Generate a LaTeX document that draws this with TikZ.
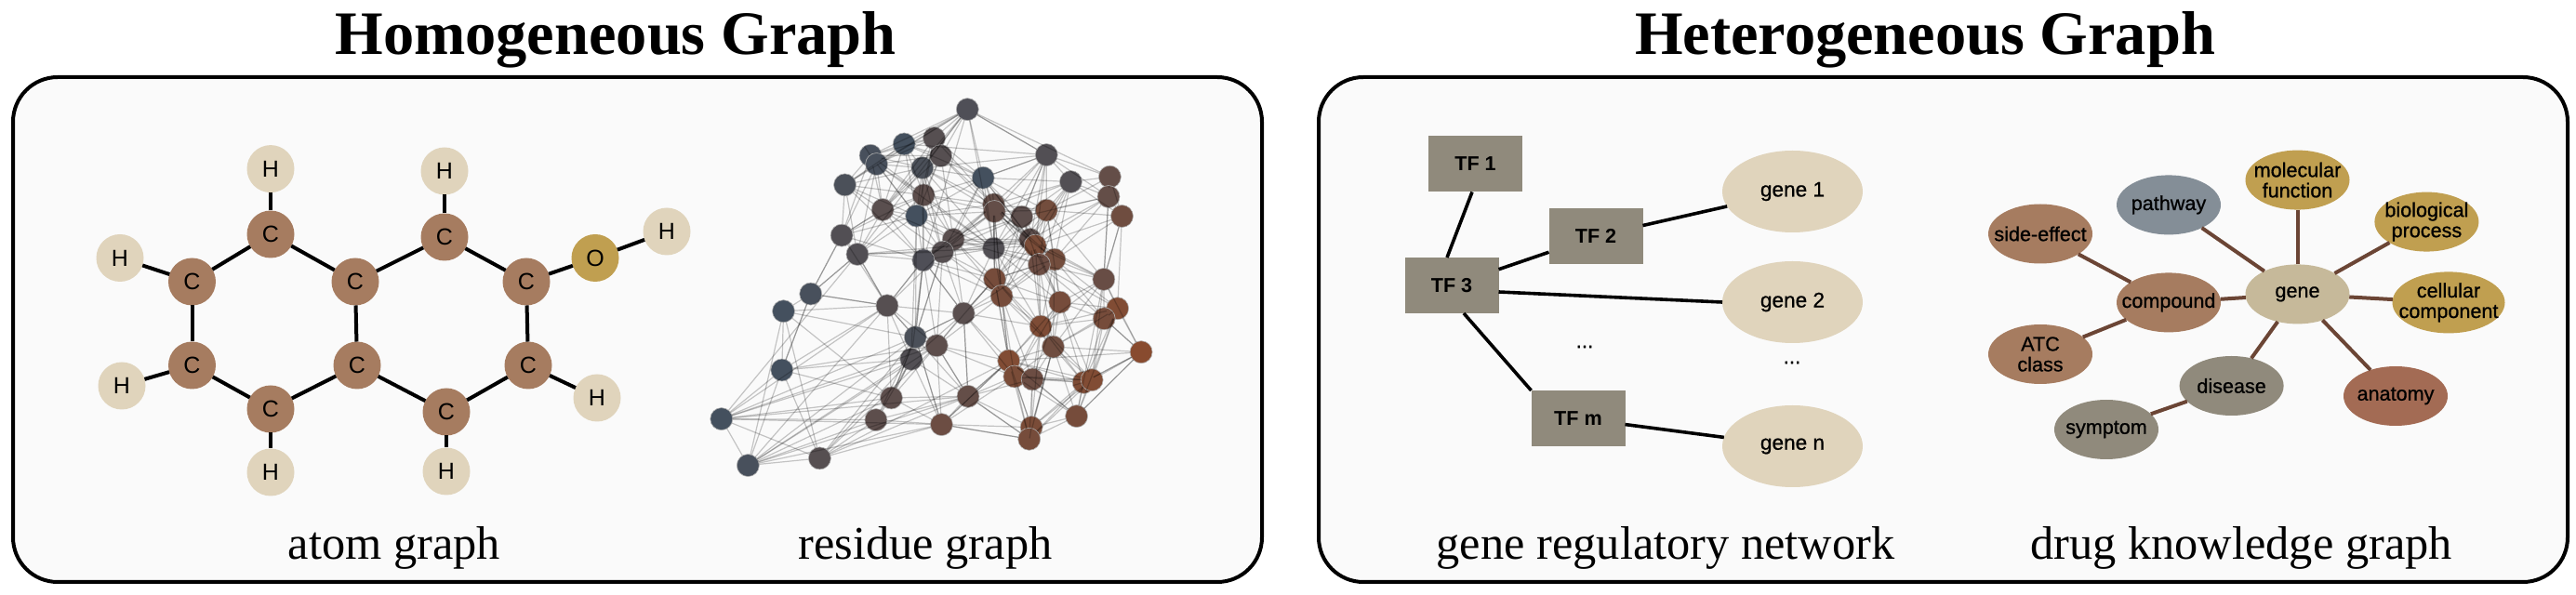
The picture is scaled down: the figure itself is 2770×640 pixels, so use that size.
\documentclass[tikz,border=0pt]{standalone}
\usepackage{fontspec}
\setmainfont{Liberation Serif}
\setsansfont{Liberation Sans}
\newfontfamily\labelfont[FakeBold=0.8]{Liberation Sans}
\usetikzlibrary{positioning}
\usetikzlibrary{shapes.geometric}
\definecolor{panelfill}{HTML}{FAFAFA}
\definecolor{carbon}{HTML}{A67C60}
\definecolor{hydrogen}{HTML}{E0D4BC}
\definecolor{gold}{HTML}{C09F50}
\definecolor{taupe}{HTML}{908A7C}
\definecolor{slate}{HTML}{848E97}
\definecolor{genefill}{HTML}{C6B99A}
\definecolor{rust}{HTML}{A36B54}
\definecolor{linkbrown}{HTML}{6B4535}
\definecolor{resblue}{HTML}{44505E}
\definecolor{resbrown}{HTML}{8C4B2C}
\tikzset{
  panel/.style={draw=black,line width=2pt,fill=panelfill,rounded corners=24pt},
  heading/.style={font=\fontsize{33.2}{36}\selectfont\bfseries,anchor=base},
  caption/.style={font=\fontsize{25.2}{28}\selectfont,anchor=base},
  atom/.style={circle,inner sep=0pt,outer sep=0pt,minimum size=25.5pt,font=\sffamily\fontsize{12.5}{12.5}\selectfont},
  catom/.style={atom,fill=carbon},
  hatom/.style={atom,fill=hydrogen},
  oatom/.style={atom,fill=gold},
  bond/.style={line width=2pt,black},
  tflink/.style={line width=1.8pt,black},
  tfbox/.style={rectangle,fill=taupe,inner sep=0pt,outer sep=0pt,minimum width=50.5pt,minimum height=30pt,font=\sffamily\bfseries\fontsize{10.8}{10.8}\selectfont},
  genebox/.style={ellipse,fill=hydrogen,inner sep=0pt,outer sep=0pt,minimum width=75.5pt,minimum height=44pt,font=\labelfont\fontsize{11.3}{11.3}\selectfont},
  kgnode/.style={ellipse,inner sep=-8pt,outer sep=0pt,minimum width=56pt,minimum height=32pt,align=center,font=\labelfont\fontsize{10.8}{11}\selectfont},
  kglink/.style={line width=2pt,linkbrown},
  residue/.style={circle,inner sep=0pt,outer sep=0pt,minimum size=12pt,draw=gray!60,line width=.3pt},
  contact/.style={line width=.6pt,black,opacity=.22},
}
\newcommand{\resnodes}{1/873/113/15,2/769/206/25,3/675/225/0,4/570/262/5,5/589/290/5,6/790/263/25,7/732/302/10,8/922/334/0,9/1120/260/20,10/1196/347/20,11/1318/331/45,12/1314/395/45,13/1356/458/60,14/490/357/10,15/608/437/30,16/736/390/35,17/714/457/0,18/955/420/45,19/957/443/45,20/1043/460/35,21/1120/439/65,22/480/520/20,23/529/581/20,24/829/533/30,25/795/574/25,26/735/600/15,27/955/562/20,28/1069/533/35,29/1085/553/75,30/1145/598/65,31/1097/614/55,32/958/661/70,33/980/716/70,34/1299/662/50,35/1162/736/70,36/1342/756/85,37/1300/789/70,38/622/747/25,39/861/772/30,40/383/709/5,41/298/765/0,42/1102/814/80,43/710/849/10,44/777/876/35,45/1141/880/60,46/1416/897/95,47/697/920/20,48/1002/925/85,49/293/955/0,50/1020/976/75,51/1076/985/55,52/1236/995/80,53/1262/987/85,54/635/1045/35,55/875/1040/45,56/104/1113/0,57/587/1116/35,58/1214/1104/70,59/792/1131/55,60/1073/1140/75,61/1066/1178/70,62/187/1263/5,63/411/1240/25}

\begin{document}
\begin{tikzpicture}[x=.5pt,y=-.5pt]
  \useasboundingbox (0,0) rectangle (2770,640);
  \draw[panel] (14,83) rectangle (1357,626);
  \draw[panel] (1418,83) rectangle (2761,626);
  \node[heading] (homo) at (662,59) {Homogeneous Graph};
  \node[heading] (hetero) at (2070,59) {Heterogeneous Graph};
  \node[caption] (atomcap) at (424,602) {atom graph};
  \node[caption] (rescap) at (995,602) {residue graph};
  \node[caption] (grncap) at (1791,602) {gene regulatory network};
  \node[caption] (kgcap) at (2410,602) {drug knowledge graph};
  % atom graph
  \foreach \n/\x/\y in {1/291/252,2/206.5/303,3/206.5/393,4/291/440,5/384/393,6/382/303,7/478/255,8/566/303,9/568/393,10/480/443}
    \node[catom] (c\n) at (\x,\y) {C};
  \node[oatom] (o1) at (640,277.5) {O};
  \node[hatom,above=9.7pt of c1] (h1) {H};
  \node[hatom,above=10pt of c7] (h2) {H};
  \node[hatom] (h3) at (129,277.5) {H};
  \node[hatom] (h4) at (131,415) {H};
  \node[hatom,below=8.5pt of c4] (h5) {H};
  \node[hatom,below=6.5pt of c10] (h6) {H};
  \node[hatom] (h7) at (642,428) {H};
  \node[hatom] (h8) at (717,249) {H};
  \foreach \a/\b in {c1/c2,c2/c3,c3/c4,c4/c5,c5/c6,c6/c1,c6/c7,c7/c8,c8/c9,c9/c10,c10/c5,c1/h1,c7/h2,c2/h3,c3/h4,c4/h5,c10/h6,c9/h7,c8/o1,o1/h8}
    \draw[bond] (\a) -- (\b);
  % residue graph
  \begin{scope}[shift={(740,80)},xscale=.344,yscale=.333]
    \foreach \i/\xa/\ya/\pa in \resnodes
      \node[residue,fill=resbrown!\pa!resblue] (r\i) at (\xa,\ya) {};
    \foreach \i/\xa/\ya/\pa in \resnodes
      \foreach \j/\xb/\yb/\pb in \resnodes {
        \ifnum\j>\i
          \pgfmathparse{veclen((\xa-\xb)*.344,(\ya-\yb)*.333)<100?1:0}
          \ifnum\pgfmathresult=1
            \draw[contact] (r\i) -- (r\j);
          \fi
        \fi
      }
    \foreach \a/\b in {56/38,56/54,56/57,56/43,56/47,56/63,56/59,56/23,56/44,56/55,62/38,62/47,62/43,62/54,62/57,62/59,62/49,62/41,62/44,62/55,63/59,63/55,63/47,63/44,63/49,63/41,63/43,63/48,1/14,1/5,1/4,1/23,1/15,1/26,1/27,9/1,9/8,9/20,9/7,9/27,49/38,49/47,49/44,49/54,49/40,41/38,41/54,41/43,40/22,40/23,40/38,57/55,59/61,59/48,59/43,55/61,55/48,55/39,38/23,38/43,38/26,39/26,39/43,39/32,43/26,43/25,43/17,47/26,47/17,46/37,46/48,46/52,46/58,58/36,58/34,53/34,34/13,34/12,11/1,48/33,48/32,60/45,60/42,61/45,54/47,54/43,44/25,44/55,14/26,22/15,23/27,23/28,5/27,7/27,3/9}
      \draw[contact] (r\a) -- (r\b);
  \end{scope}
  % gene regulatory network
  \node[tfbox] (tf1) at (1586.5,176.5) {TF 1};
  \node[tfbox] (tf2) at (1716,254) {TF 2};
  \node[tfbox] (tf3) at (1561,307) {TF 3};
  \node[tfbox] (tfm) at (1697,450) {TF m};
  \node[genebox] (gene1) at (1927.5,206) {gene 1};
  \node[genebox,below=15.5pt of gene1] (gene2) {gene 2};
  \node[genebox] (genen) at (1927.5,480) {gene n};
  \node[font=\labelfont\fontsize{11.3}{11.3}\selectfont] (tfdots) at (1704,373) {...};
  \node[font=\labelfont\fontsize{11.3}{11.3}\selectfont] (genedots) at (1927,390) {...};
  \draw[tflink] ([xshift=-1.75pt]tf1.south) -- ([xshift=-2.5pt]tf3.north);
  \draw[tflink] (tf3) -- (tf2);
  \draw[tflink] (tf2) -- (gene1);
  \draw[tflink] ([yshift=-3.5pt]tf3.east) -- (gene2.west);
  \draw[tflink] ([xshift=6.5pt]tf3.south) -- (tfm.north west);
  \draw[tflink] (tfm) -- (genen);
  % drug knowledge graph
  \node[kgnode,fill=genefill] (gene) at (2470.5,316.4) {gene};
  \node[kgnode,fill=slate] (pathway) at (2332,220.4) {pathway};
  \node[kgnode,fill=gold] (molfun) at (2470.5,193.6) {molecular\\function};
  \node[kgnode,fill=gold] (bioproc) at (2609.4,238.6) {biological\\process};
  \node[kgnode,fill=gold,minimum width=60.5pt,minimum height=33pt] (cellcomp) at (2633,325.4) {cellular\\component};
  \node[kgnode,fill=carbon] (sideeff) at (2194,251.5) {side-effect};
  \node[kgnode,fill=carbon] (compound) at (2332,325.4) {compound};
  \node[kgnode,fill=carbon] (atc) at (2194,381) {ATC\\class};
  \node[kgnode,fill=taupe] (disease) at (2399.6,415) {disease};
  \node[kgnode,fill=rust] (anatomy) at (2576,426) {anatomy};
  \node[kgnode,fill=taupe] (symptom) at (2265,462) {symptom};
  \foreach \a/\b in {gene/pathway,gene/molfun,gene/bioproc,gene/cellcomp,gene/anatomy,gene/disease,gene/compound,compound/sideeff,compound/atc,disease/symptom}
    \draw[kglink] (\a) -- (\b);
\end{tikzpicture}
\end{document}
